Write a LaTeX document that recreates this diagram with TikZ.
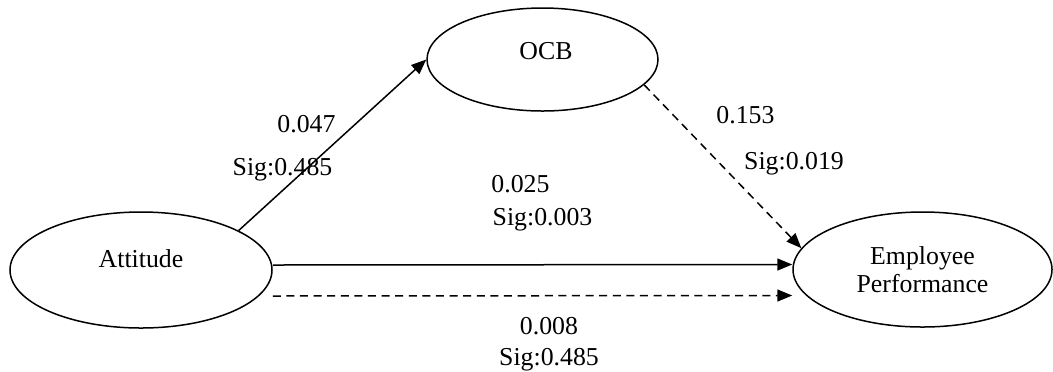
\documentclass[tikz,border=0pt]{standalone}
\usepackage{fontspec}
\setmainfont{Liberation Serif}
\usetikzlibrary{arrows.meta,shapes.geometric}
\begin{document}
\begin{tikzpicture}[x=0.5pt,y=-0.5pt,
  font=\fontsize{12.9}{15}\selectfont,
  ell/.style={draw, ellipse, line width=0.75pt, inner sep=0pt},
  conn/.style={line width=0.75pt, -{Triangle[length=7.5pt,width=6pt]}},
  dsh/.style={dash pattern=on 4pt off 2.8pt},
  lbl/.style={anchor=base, inner sep=0pt}]
\useasboundingbox (0,0) rectangle (1053,371);
\node[ell, minimum width=131pt, minimum height=58pt,
      label={[name=attl, yshift=5.5pt]center:Attitude}] (att) at (141,270) {};
\node[ell, minimum width=115.5pt, minimum height=51.5pt,
      label={[name=ocbl, xshift=1.75pt, yshift=4pt]center:OCB}] (ocb) at (542.5,59.5) {};
\node[ell, minimum width=129.5pt, minimum height=57.5pt, align=center] (ep) at (922.5,269.5) {Employee\\[-1pt]Performance};
\draw[conn] (att.22) -- (ocb.west);
\draw[conn, dsh] (ocb.-14) -- (ep.170);
\draw[conn] ([yshift=2.5pt]att.east) -- ([yshift=2.5pt]ep.west);
\draw[conn, dsh] ([yshift=-13pt]att.east) -- ([yshift=-13pt]ep.west);
\node[lbl] (l1) at (306.5,132) {0.047};
\node[lbl] (l2) at (282.5,175) {Sig:0.485};
\node[lbl] (l3) at (520.5,192) {0.025};
\node[lbl] (l4) at (542.5,225) {Sig:0.003};
\node[lbl] (l5) at (745.5,123) {0.153};
\node[lbl] (l6) at (794,169) {Sig:0.019};
\node[lbl] (l7) at (549,334) {0.008};
\node[lbl] (l8) at (549,365) {Sig:0.485};
\end{tikzpicture}
\end{document}
